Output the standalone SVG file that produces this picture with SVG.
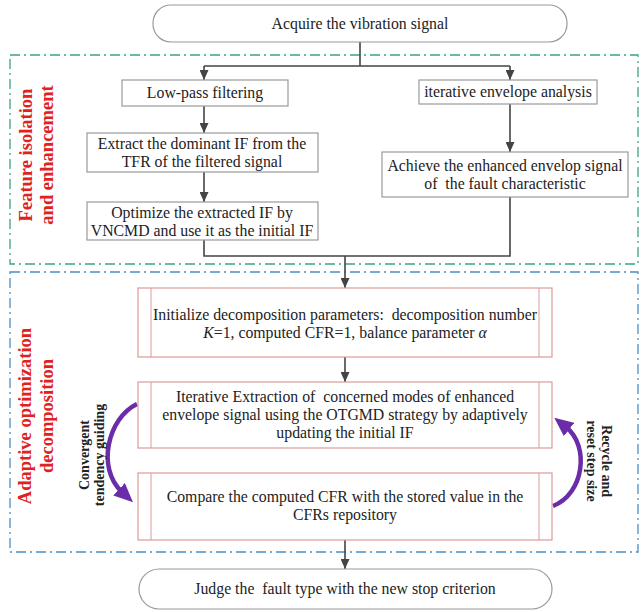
<svg xmlns="http://www.w3.org/2000/svg" width="641" height="612" viewBox="0 0 641 612">
<defs>
<style>
.bg{fill:#ffffff}
.t{font-family:"Liberation Serif","Times New Roman",serif;font-size:15.8px;fill:#222;text-anchor:middle}
.lbl{font-family:"Liberation Serif","Times New Roman",serif;font-size:18.5px;font-weight:bold;fill:#e0211d;text-anchor:middle}
.side{font-family:"Liberation Serif","Times New Roman",serif;font-size:14px;font-weight:bold;fill:#222;text-anchor:middle}
.box{fill:#fff;stroke:#9a9a9a;stroke-width:1.2}
.rbox{fill:#fff;stroke:#9a9a9a;stroke-width:1.2}
.pbox{fill:#fff;stroke:#dc9a9a;stroke-width:1.2}
.pline{stroke:#dc9a9a;stroke-width:1}
.conn{fill:none;stroke:#444;stroke-width:1.6}
.arr{fill:none;stroke:#444;stroke-width:1.6;marker-end:url(#ah)}
.grp1{fill:none;stroke:#3aa57e;stroke-width:1.3;stroke-dasharray:10 4 2 4}
.grp2{fill:none;stroke:#4a8fc4;stroke-width:1.3;stroke-dasharray:10 4 2 4}
.purp{fill:none;stroke:#6a2ca8;stroke-width:4.5;marker-end:url(#ph)}
</style>
<marker id="ah" markerUnits="userSpaceOnUse" markerWidth="10" markerHeight="9" refX="10" refY="4.5" orient="auto">
<path d="M0,0 L10,4.5 L0,9 z" fill="#444"/>
</marker>
<marker id="ph" markerUnits="userSpaceOnUse" markerWidth="19" markerHeight="17" refX="4" refY="8.5" orient="auto">
<path d="M0,0 L19,8.5 L0,17 z" fill="#6a2ca8"/>
</marker>
</defs>
<rect class="bg" x="0" y="0" width="641" height="612"/>

<g id="groups">
<rect class="grp1" x="10" y="55" width="628" height="209"/>
<rect class="grp2" x="10" y="272" width="628" height="280"/>
</g>

<g id="label-feature">
<text class="lbl" transform="translate(32,155) rotate(-90)">Feature isolation</text>
<text class="lbl" transform="translate(53,155) rotate(-90)">and enhancement</text>
</g>
<g id="label-adaptive">
<text class="lbl" transform="translate(31,416) rotate(-90)">Adaptive optimization</text>
<text class="lbl" transform="translate(53,416) rotate(-90)">decomposition</text>
</g>

<g id="connectors">
<path class="conn" d="M360,42 V66 M204,66 H510"/>
<path class="arr" d="M204,66 V80"/>
<path class="arr" d="M510,66 V80"/>
<path class="arr" d="M204,106 V133"/>
<path class="arr" d="M510,104 V152"/>
<path class="arr" d="M204,172 V202"/>
<path class="conn" d="M204,240 V256 H510 V197"/>
<path class="arr" d="M345,256 V288"/>
<path class="arr" d="M345,357 V382"/>
<path class="arr" d="M345,540 V569"/>
<path class="purp" d="M137,404 C108,418 96,468 122,492"/>
<path class="purp" d="M553,506 C584,494 590,446 566,427"/>
</g>

<g id="n-acquire">
<rect class="rbox" x="153" y="5" width="414" height="37" rx="18" ry="18"/>
<text class="t" x="360" y="29">Acquire the vibration signal</text>
</g>

<g id="n-lowpass">
<rect class="box" x="122" y="80" width="166" height="26"/>
<text class="t" x="205" y="98">Low-pass filtering</text>
</g>

<g id="n-extract">
<rect class="box" x="87" y="133" width="231" height="39"/>
<text class="t" x="202" y="149">Extract the dominant IF from the</text>
<text class="t" x="202" y="167">TFR of the filtered signal</text>
</g>

<g id="n-optimize">
<rect class="box" x="87" y="202" width="231" height="38"/>
<text class="t" x="202" y="218">Optimize the extracted IF by</text>
<text class="t" x="202" y="236">VNCMD and use it as the initial IF</text>
</g>

<g id="n-envelope">
<rect class="box" x="419" y="80" width="178" height="24"/>
<text class="t" x="508" y="97">iterative envelope analysis</text>
</g>

<g id="n-achieve">
<rect class="box" x="382" y="152" width="246" height="45"/>
<text class="t" x="505" y="171">Achieve the enhanced envelop signal</text>
<text class="t" x="505" y="189">of&#160; the fault characteristic</text>
</g>

<g id="n-init">
<rect class="pbox" x="138" y="288" width="414" height="69"/>
<line class="pline" x1="151" y1="288" x2="151" y2="357"/>
<line class="pline" x1="539" y1="288" x2="539" y2="357"/>
<text class="t" x="345" y="320">Initialize decomposition parameters:&#160; decomposition number</text>
<text class="t" x="345" y="338"><tspan font-style="italic">K</tspan>=1, computed CFR=1, balance parameter <tspan font-style="italic">α</tspan></text>
</g>

<g id="n-iterative">
<rect class="pbox" x="138" y="382" width="414" height="66"/>
<line class="pline" x1="151" y1="382" x2="151" y2="448"/>
<line class="pline" x1="539" y1="382" x2="539" y2="448"/>
<text class="t" x="345" y="402">Iterative Extraction of&#160; concerned modes of enhanced</text>
<text class="t" x="345" y="420">envelope signal using the OTGMD strategy by adaptively</text>
<text class="t" x="345" y="438">updating the initial IF</text>
</g>

<g id="n-compare">
<rect class="pbox" x="138" y="473" width="414" height="67"/>
<line class="pline" x1="151" y1="473" x2="151" y2="540"/>
<line class="pline" x1="539" y1="473" x2="539" y2="540"/>
<text class="t" x="345" y="502">Compare the computed CFR with the stored value in the</text>
<text class="t" x="345" y="520">CFRs repository</text>
</g>

<g id="n-judge">
<rect class="rbox" x="139" y="569" width="413" height="40" rx="20" ry="20"/>
<text class="t" x="345" y="594">Judge the&#160; fault type with the new stop criterion</text>
</g>

<g id="label-convergent">
<text class="side" transform="translate(89,455) rotate(-90)">Convergent</text>
<text class="side" transform="translate(104,455) rotate(-90)">tendency guiding</text>
</g>
<g id="label-recycle">
<text class="side" transform="translate(602,461) rotate(90)">Recycle and</text>
<text class="side" transform="translate(587,461) rotate(90)">reset step size</text>
</g>
</svg>
